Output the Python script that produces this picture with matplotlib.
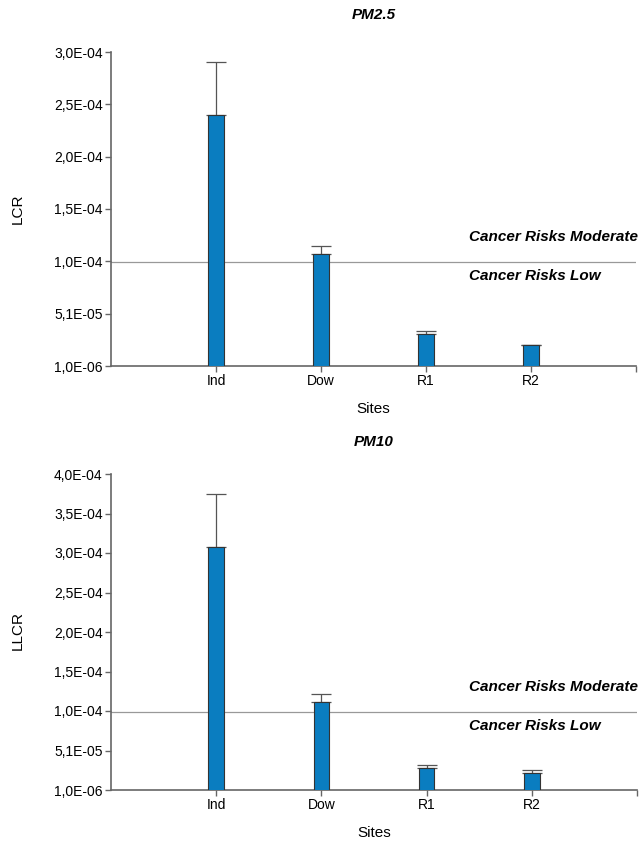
import matplotlib
matplotlib.use("Agg")
import matplotlib.pyplot as plt
import numpy as np

plt.rcParams['font.family'] = ['Liberation Sans', 'DejaVu Sans']

sites = ["Ind", "Dow", "R1", "R2"]
pm25_lcr = [2.41e-4, 1.08e-4, 3.16e-5, 2.10e-5]
pm25_err = [5.0e-5, 0.8e-5, 2.8e-6, 5.0e-7]
pm10_llcr = [3.09e-4, 1.13e-4, 2.85e-5, 2.29e-5]
pm10_err = [6.7e-5, 0.95e-5, 4.1e-6, 3.8e-6]

pm25_ticks = [1.0e-6, 5.1e-5, 1.01e-4, 1.51e-4, 2.01e-4, 2.51e-4, 3.01e-4]
pm25_labels = ["1,0E-06", "5,1E-05", "1,0E-04", "1,5E-04", "2,0E-04", "2,5E-04", "3,0E-04"]
pm10_ticks = [1.0e-6, 5.1e-5, 1.01e-4, 1.51e-4, 2.01e-4, 2.51e-4, 3.01e-4, 3.51e-4, 4.01e-4]
pm10_labels = ["1,0E-06", "5,1E-05", "1,0E-04", "1,5E-04", "2,0E-04", "2,5E-04", "3,0E-04", "3,5E-04", "4,0E-04"]
threshold = 1.0e-4

W, H = 643, 842
fig = plt.figure(figsize=(W / 100, H / 100), dpi=100)

def make_ax(box, vals, errs, ticks, labels, ylabel, title, ylab_y, tpad):
    l, t, r, b = box
    ax = fig.add_axes([l / W, 1 - b / H, (r - l) / W, (b - t) / H])
    x = np.arange(1, len(sites) + 1)
    ax.bar(x, vals, width=0.15, color="#0A7DC0", edgecolor="#333333", linewidth=0.8, zorder=3)
    ax.errorbar(x, vals, yerr=[np.zeros(len(errs)), errs], fmt="none", ecolor="#555555",
                elinewidth=0.9, capsize=7, capthick=0.9, zorder=2)
    ax.axhline(threshold, color="#999999", linewidth=0.9, zorder=1)
    ax.set_xlim(0, 5)
    ax.set_ylim(ticks[0], ticks[-1])
    ax.set_xticks(list(x))
    ax.set_xticklabels(sites, fontsize=10)
    ax.set_xticks([5], minor=True)
    ax.set_yticks(ticks)
    ax.set_yticklabels(labels, fontsize=10)
    for s in ["top", "right"]:
        ax.spines[s].set_visible(False)
    for s in ["left", "bottom"]:
        ax.spines[s].set_color("#666666")
        ax.spines[s].set_linewidth(1.2)
    ax.tick_params(axis="both", which="both", color="#666666", length=4, width=1, pad=2)
    ax.set_xlabel("Sites", fontsize=11, labelpad=10)
    ax.set_title(title, fontsize=11, fontweight="bold", style="italic", pad=tpad)
    fig.text(18 / W, 1 - ylab_y / H, ylabel, rotation=90, fontsize=11, ha="center", va="center")
    return ax

ax1 = make_ax((111, 52, 636, 366), pm25_lcr, pm25_err, pm25_ticks, pm25_labels, "LCR", "PM2.5", 209, 24)
ax2 = make_ax((111, 474, 637, 790), pm10_llcr, pm10_err, pm10_ticks, pm10_labels, "LLCR", "PM10", 630, 20)

for ax, ym, yl in [(ax1, 237, 276), (ax2, 687, 726)]:
    fig.text(469 / W, 1 - ym / H, "Cancer Risks Moderate", fontsize=11, fontweight="bold",
             style="italic", ha="left", va="center")
    fig.text(469 / W, 1 - yl / H, "Cancer Risks Low", fontsize=11, fontweight="bold",
             style="italic", ha="left", va="center")

fig.savefig("out.png", dpi=100)
